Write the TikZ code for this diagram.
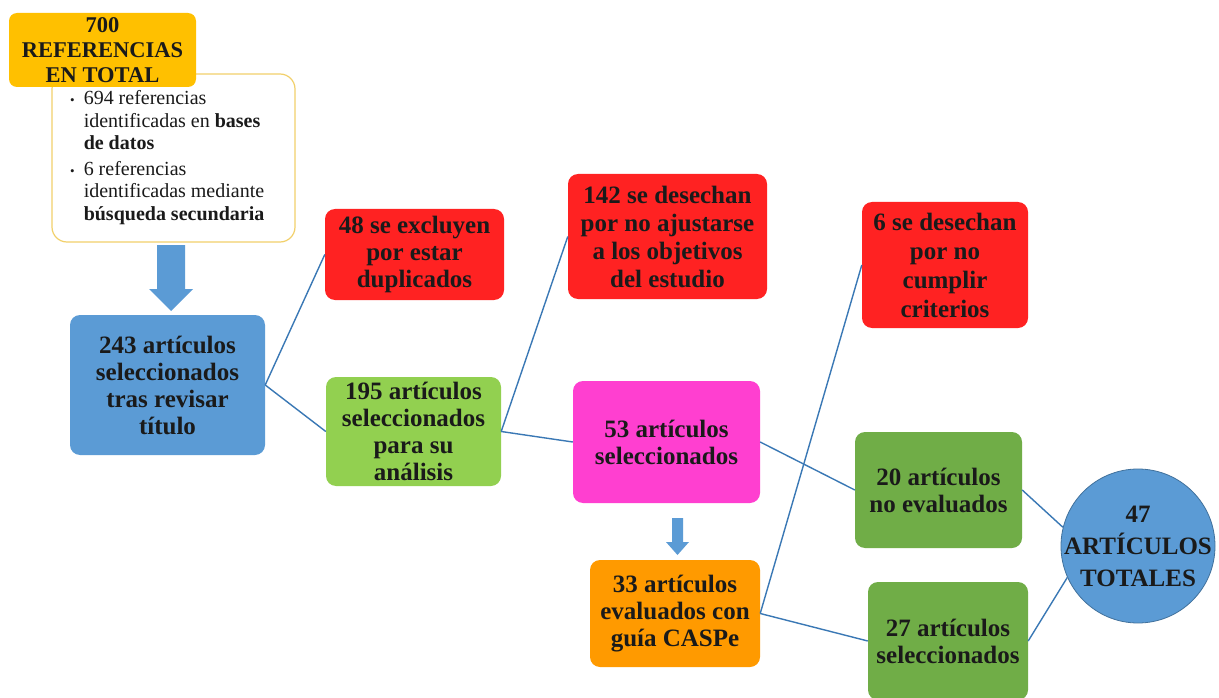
\documentclass[tikz,border=0pt]{standalone}
\usepackage{fontspec}
\setmainfont{LiberationSerif}[Extension=.ttf, UprightFont=*-Regular, BoldFont=*-Bold, ItalicFont=*-Italic, BoldItalicFont=*-BoldItalic]
\definecolor{txt}{HTML}{1A1A1A}
\definecolor{cgold}{HTML}{FFC000}
\definecolor{cgoldline}{HTML}{F2D06B}
\definecolor{cblue}{HTML}{5B9BD5}
\definecolor{cbluedark}{HTML}{41719C}
\definecolor{cred}{HTML}{FF2222}
\definecolor{clgreen}{HTML}{92D050}
\definecolor{cdgreen}{HTML}{70AD47}
\definecolor{cmag}{HTML}{FF3FD0}
\definecolor{corange}{HTML}{FF9A00}
\definecolor{cline}{HTML}{3A78B5}
\tikzset{
  box/.style={draw=none, rounded corners=10pt, align=center, inner sep=0pt,
    font=\fontsize{25}{27}\selectfont\bfseries, text=txt},
  conn/.style={draw=cline, line width=1.4pt},
  blockarrow/.style={fill=cblue, draw=none}
}
\begin{document}
\begin{tikzpicture}[x=1pt,y=-1pt]
\useasboundingbox (0,0) rectangle (1219,698);
\clip (0,0) rectangle (1219,698);
\fill[white] (0,0) rectangle (1219,698);

% white list box
\node[draw=cgoldline, line width=1.2pt, fill=white, rounded corners=15pt,
      minimum width=243pt, minimum height=168pt, inner sep=0pt] (list) at (173.5,158) {};
\node[anchor=north west, inner sep=0pt, align=left, text=txt,
      font=\fontsize{20}{22.5}\selectfont] (listtext) at (70,89) {%
  \begin{tabular}{@{}l@{\hspace{9pt}}l@{}}
  {\fontsize{13}{22.5}\selectfont\textbullet} & 694 referencias\\
   & identificadas en \textbf{bases}\\
   & \textbf{de datos}\\[3pt]
  {\fontsize{13}{22.5}\selectfont\textbullet} & 6 referencias\\
   & identificadas mediante\\
   & \textbf{búsqueda secundaria}
  \end{tabular}};

% top orange box
\node[box, fill=cgold, rounded corners=8pt, minimum width=187pt, minimum height=74pt,
      font=\fontsize{22.5}{25}\selectfont\bfseries] (b700) at (102.5,50)
  {700\\REFERENCIAS\\EN TOTAL};

% big arrow
\fill[blockarrow] (157,245) -- (185,245) -- (185,289) -- (193,289) -- (171,311)
  -- (149,289) -- (157,289) -- cycle;

\node[box, fill=cblue, minimum width=195pt, minimum height=140pt] (b243) at (167.5,385)
  {243 artículos\\seleccionados\\tras revisar\\título};
\node[box, fill=cred, minimum width=179pt, minimum height=91pt] (b48) at (414.5,254.5)
  {48 se excluyen\\por estar\\duplicados};
\node[box, fill=clgreen, minimum width=175pt, minimum height=109pt] (b195) at (413.5,431.5)
  {195 artículos\\seleccionados\\para su\\análisis};
\node[box, fill=cred, minimum width=199pt, minimum height=125pt,
      font=\fontsize{25}{28}\selectfont\bfseries] (b142) at (667.5,236.5)
  {142 se desechan\\por no ajustarse\\a los objetivos\\del estudio};
\node[box, fill=cmag, minimum width=187pt, minimum height=122pt] (b53) at (666.5,442)
  {53 artículos\\seleccionados};

% small arrow
\fill[blockarrow] (672,518) -- (683,518) -- (683,542) -- (689,542) -- (677.5,555)
  -- (666,542) -- (672,542) -- cycle;

\node[box, fill=corange, minimum width=170pt, minimum height=107pt] (b33) at (675,613.5)
  {33 artículos\\evaluados con\\guía CASPe};
\node[box, fill=cred, minimum width=166pt, minimum height=126pt,
      font=\fontsize{25}{29}\selectfont\bfseries] (b6) at (945,265)
  {6 se desechan\\por no\\cumplir\\criterios};
\node[box, fill=cdgreen, minimum width=167pt, minimum height=116pt] (b20) at (938.5,490)
  {20 artículos\\no evaluados};
\node[box, fill=cdgreen, minimum width=160pt, minimum height=118pt] (b27) at (948,641)
  {27 artículos\\seleccionados};
\node[circle, fill=cblue, draw=cbluedark, line width=0.8pt, minimum size=154pt,
      inner sep=0pt] (circ) at (1138,546) {};
\node[align=center, inner sep=0pt, text=txt,
      font=\fontsize{25}{32}\selectfont\bfseries] (circtext) at (circ.center)
  {47\\ARTÍCULOS\\TOTALES};

% connectors
\draw[conn] (b243.east) -- (b48.west);
\draw[conn] (b243.east) -- (b195.west);
\draw[conn] (b195.east) -- (b142.west);
\draw[conn] (b195.east) -- (b53.west);
\draw[conn] (b53.east) -- (b20.west);
\draw[conn] (b33.east) -- (b6.west);
\draw[conn] (b33.east) -- (b27.west);
\draw[conn] (b20.east) -- (circ.166);
\draw[conn] (b27.east) -- (circ.204);
\end{tikzpicture}
\end{document}
